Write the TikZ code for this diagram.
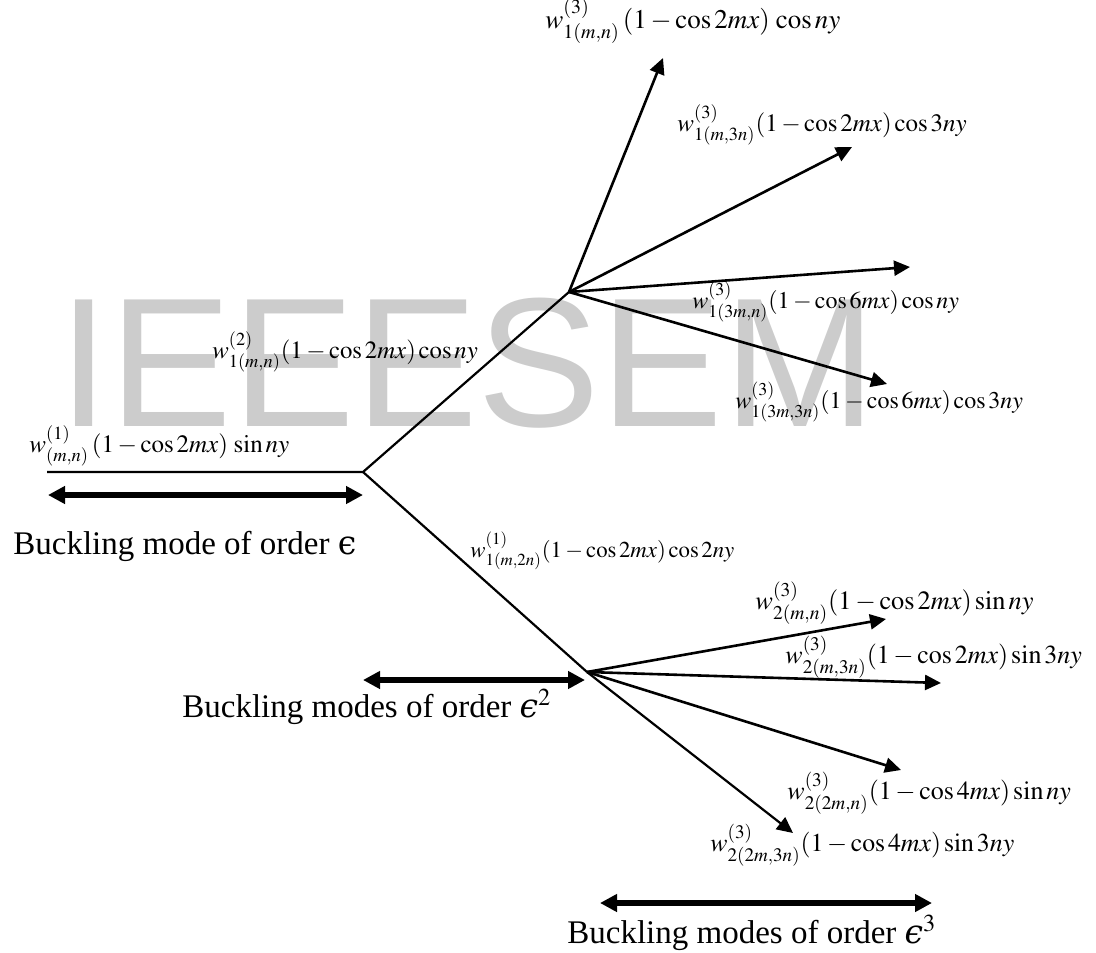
\documentclass[tikz,border=0pt]{standalone}
\usepackage{amsmath}
\usepackage{mathptmx}
\usepackage{fontspec}
\setmainfont{Liberation Serif}
\newfontfamily\wmfont{Liberation Sans}
\newfontfamily\epsfont{DejaVu Serif}
\newcommand{\lunate}{{\epsfont ϵ}}
\newcommand{\lunateit}{{\epsfont\itshape ϵ}}
\usetikzlibrary{arrows.meta}

\begin{document}
\begin{tikzpicture}[x=0.5pt,y=-0.5pt,
    mode/.style={anchor=west,inner sep=0pt,font=\fontsize{#1}{#1}\selectfont},
    order/.style={anchor=base west,inner sep=0pt,font=\fontsize{16.5}{20}\selectfont},
    branch/.style={line width=1.1pt},
    ray/.style={line width=1.3pt,-{Triangle[length=8pt,width=7.5pt]}},
    span/.style={line width=2.8pt,{Triangle[length=8.5pt,width=8.5pt]}-{Triangle[length=8.5pt,width=8.5pt]}}]
    \useasboundingbox (0,0) rectangle (1096,952);
    \node [anchor=base west,inner sep=0pt,text=black!20,
      font=\wmfont\fontsize{92}{92}\selectfont] (W) at (58,426) {IEEESEM};
    % branch points
    \coordinate (S) at (47,472);
    \coordinate (B) at (363,472);
    \coordinate (U) at (569,292);
    \coordinate (L) at (587,672);
    % free ends of the arrows
    \coordinate (U1) at (663,58);
    \coordinate (U2) at (852,147);
    \coordinate (U3) at (910,267);
    \coordinate (U4) at (887,384);
    \coordinate (L1) at (886,619);
    \coordinate (L2) at (941,683);
    \coordinate (L3) at (901,770);
    \coordinate (L4) at (793,833);
    \coordinate (P1) at (48,495);
    \coordinate (Q1) at (363,495);
    \coordinate (P2) at (363,680);
    \coordinate (Q2) at (585,680);
    \coordinate (P3) at (600,903);
    \coordinate (Q3) at (932,903);
    \draw[branch] (S) -- (B) -- (U);
    \draw[branch] (B) -- (L);
    \draw[ray] (U) -- (U1);
    \draw[ray] (U) -- (U2);
    \draw[ray] (U) -- (U3);
    \draw[ray] (U) -- (U4);
    \draw[ray] (L) -- (L1);
    \draw[ray] (L) -- (L2);
    \draw[ray] (L) -- (L3);
    \draw[ray,line width=1.1pt] (L) -- (L4);
    \draw[span] (P1) -- (Q1);
    \draw[span] (P2) -- (Q2);
    \draw[span] (P3) -- (Q3);
    % modes
    \node [mode=12.5] (M0) at (29,446) {$w^{(1)}_{(m,n)}\,(1-\cos 2mx)\,\sin ny$};
    \node [mode=12.4] (M1) at (212,352) {$w^{(2)}_{1(m,n)}(1-\cos 2mx)\cos ny$};
    \node [mode=11.4] (M2) at (470,551) {$w^{(1)}_{1(m,2n)}(1-\cos 2mx)\cos 2ny$};
    \node [mode=13.5] (A1) at (545,21) {$w^{(3)}_{1(m,n)}\,(1-\cos 2mx)\,\cos ny$};
    \node [mode=12.5] (A2) at (677,125) {$w^{(3)}_{1(m,3n)}(1-\cos 2mx)\cos 3ny$};
    \node [mode=12] (A3) at (692,302) {$w^{(3)}_{1(3m,n)}(1-\cos 6mx)\cos ny$};
    \node [mode=12] (A4) at (735,402) {$w^{(3)}_{1(3m,3n)}(1-\cos 6mx)\cos 3ny$};
    \node [mode=13.2] (B1) at (755,603) {$w^{(3)}_{2(m,n)}(1-\cos 2mx)\sin ny$};
    \node [mode=13] (B2) at (785,657) {$w^{(3)}_{2(m,3n)}(1-\cos 2mx)\sin 3ny$};
    \node [mode=13] (B3) at (787,793) {$w^{(3)}_{2(2m,n)}(1-\cos 4mx)\sin ny$};
    \node [mode=12.9] (B4) at (710,845) {$w^{(3)}_{2(2m,3n)}(1-\cos 4mx)\sin 3ny$};
    % orders
    \node [order] (O1) at (13,554) {Buckling mode of order \lunate};
    \node [order] (O2) at (182,717) {Buckling modes of order \lunateit$^2$};
    \node [order] (O3) at (567,943) {Buckling modes of order \lunateit$^3$};
  \end{tikzpicture}
\end{document}
